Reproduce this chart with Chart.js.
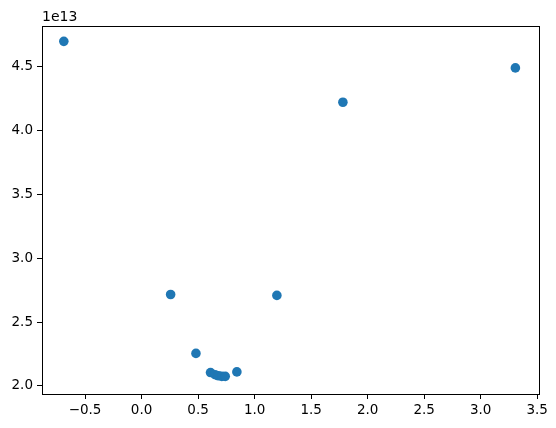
<!DOCTYPE html>
<html>
<head>
<meta charset="utf-8">
<script src="https://cdn.jsdelivr.net/npm/chart.js@4/dist/chart.umd.min.js"></script>
<style>
  html, body { margin: 0; padding: 0; background: #fff; }
  #wrap { width: 556px; height: 428px; }
</style>
</head>
<body>
<div id="wrap"><canvas id="scatterChart" width="556" height="428"></canvas></div>
<script>
// dati
var xValues = [-0.688, 3.307, 1.781, 0.257, 1.197, 0.481, 0.61, 0.65, 0.68, 0.71, 0.74, 0.843];
var yValues = [4.698e13, 4.49e13, 4.221e13, 2.716e13, 2.709e13, 2.255e13, 2.105e13, 2.088e13, 2.08e13, 2.075e13, 2.075e13, 2.11e13];
var xTicks = [-0.5, 0.0, 0.5, 1.0, 1.5, 2.0, 2.5, 3.0, 3.5];
var yTicks = [2.0e13, 2.5e13, 3.0e13, 3.5e13, 4.0e13, 4.5e13];

var punti = xValues.map(function (x, i) {
  return { x: x, y: yValues[i] };
});

function fmt(v) {
  return v.toFixed(1).replace('-', '\u2212');
}

// cornice e moltiplicatore in alto a sinistra
var cornice = {
  id: 'cornice',
  afterDraw: function (chart) {
    var a = chart.chartArea;
    var ctx = chart.ctx;
    ctx.save();
    ctx.strokeStyle = '#000';
    ctx.lineWidth = 1;
    ctx.strokeRect(Math.round(a.left) + 0.5, Math.round(a.top) + 0.5,
      Math.round(a.right - a.left), Math.round(a.bottom - a.top));
    ctx.fillStyle = '#000';
    ctx.font = '14px "DejaVu Sans"';
    ctx.textAlign = 'left';
    ctx.textBaseline = 'alphabetic';
    ctx.fillText('1e13', a.left, a.top - 5);
    ctx.restore();
  }
};

var tickFont = { family: '"DejaVu Sans"', size: 13.5 };

new Chart(document.getElementById('scatterChart').getContext('2d'), {
  type: 'scatter',
  data: {
    datasets: [{
      data: punti,
      backgroundColor: '#1f77b4',
      borderWidth: 0,
      pointRadius: 4.8,
      pointHoverRadius: 4.8
    }]
  },
  options: {
    responsive: false,
    animation: false,
    layout: { padding: { top: 26, right: 17, left: 0, bottom: 0 } },
    plugins: { legend: { display: false }, tooltip: { enabled: false } },
    scales: {
      x: {
        type: 'linear',
        min: -0.881,
        max: 3.516,
        afterBuildTicks: function (scale) {
          scale.ticks = xTicks.map(function (v) { return { value: v }; });
        },
        afterFit: function (scale) { scale.height = 34; },
        grid: { display: true, drawOnChartArea: false, tickLength: 5, color: '#000', tickColor: '#000' },
        border: { display: false },
        ticks: { color: '#000', font: tickFont, padding: 3, maxRotation: 0, autoSkip: false,
          callback: function (v) { return fmt(v); } }
      },
      y: {
        type: 'linear',
        min: 1.937e13,
        max: 4.818e13,
        afterBuildTicks: function (scale) {
          scale.ticks = yTicks.map(function (v) { return { value: v }; });
        },
        afterFit: function (scale) { scale.width = 42; },
        grid: { display: true, drawOnChartArea: false, tickLength: 5, color: '#000', tickColor: '#000' },
        border: { display: false },
        ticks: { color: '#000', font: tickFont, padding: 4, autoSkip: false,
          callback: function (v) { return fmt(v / 1e13); } }
      }
    }
  },
  plugins: [cornice]
});
</script>
</body>
</html>
